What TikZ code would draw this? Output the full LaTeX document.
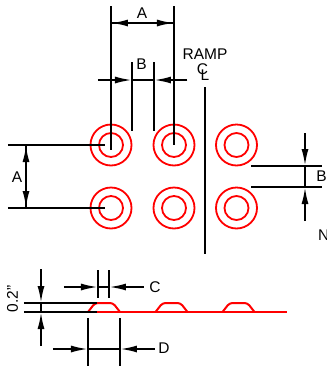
\documentclass[tikz,border=0pt]{standalone}
\usepackage{fontspec}
\setmainfont{Liberation Sans}
\usetikzlibrary{arrows.meta}
\tikzset{
    dimline/.style={black, line width=2pt},
    dimarrow/.style={dimline, -{Latex[length=17pt,width=7pt]}},
    padouter/.style={draw=red, circle, line width=1.8pt, minimum size=41pt, inner sep=0pt},
    padinner/.style={draw=red, circle, line width=1.8pt, minimum size=24pt, inner sep=0pt},
    rampline/.style={draw=red, line width=2pt, rounded corners=3pt},
    dimtext/.style={font=\fontsize{15.5}{15.5}\selectfont, inner sep=0pt}
}
\begin{document}
\begin{tikzpicture}[x=1pt,y=-1pt]
        \useasboundingbox (0,0) rectangle (327,368);

        % pads
        \node[padouter] (p1) at (111,145) {};
        \node[padouter] (p2) at (174,145) {};
        \node[padouter] (p3) at (236.5,145) {};
        \node[padouter] (p4) at (111,208) {};
        \node[padouter] (p5) at (174,208) {};
        \node[padouter] (p6) at (236.5,208) {};
        \node[padinner] (q1) at (111,145) {};
        \node[padinner] (q2) at (174,145) {};
        \node[padinner] (q3) at (236.5,145) {};
        \node[padinner] (q4) at (111,208) {};
        \node[padinner] (q5) at (174,208) {};
        \node[padinner] (q6) at (236.5,208) {};

        % labels
        \node[dimtext] (la) at (142,13) {A};
        \node[dimtext] (lb) at (141.5,64) {B};
        \node[dimtext] (lramp) at (205,54) {RAMP};
        \node[dimtext] (lc) at (202.5,69) {C};
        \node[dimtext] (ll) at (205,75) {L};
        \node[dimtext] (la2) at (17,177.5) {A};
        \node[dimtext] (lb2) at (321.5,176.5) {B};
        \node[dimtext, anchor=west] (ln) at (318,235) {N};
        \node[dimtext, rotate=90] (lh) at (12.5,299) {0.2"};
        \node[dimtext] (lc2) at (155,287.5) {C};
        \node[dimtext] (ld) at (164,348.5) {D};

        % top dimension A
        \coordinate (a1) at (111,6);
        \coordinate (a2) at (174,6);
        \coordinate (a3) at (111,23);
        \coordinate (a4) at (174,23);
        \draw[dimline] (a1) -- (p1.center |- 0,150);
        \draw[dimline] (a2) -- (p2.center);
        \draw[dimarrow] (a3) -- (a4);
        \draw[dimarrow] (a4) -- (a3);

        % top dimension B
        \coordinate (b1) at (132,62);
        \coordinate (b2) at (132,131);
        \coordinate (b3) at (154,62);
        \coordinate (b4) at (154,131);
        \coordinate (b5) at (98,80);
        \coordinate (b6) at (132,80);
        \coordinate (b7) at (187.5,80);
        \coordinate (b8) at (154,80);
        \draw[dimline] (b1) -- (b2);
        \draw[dimline] (b3) -- (b4);
        \draw[dimarrow] (b5) -- (b6);
        \draw[dimarrow] (b7) -- (b8);
        \draw[dimline] (b6) -- (b8);

        % ramp centre line
        \coordinate (r1) at (205,87);
        \coordinate (r2) at (205,254);
        \draw[dimline] (r1) -- (r2);

        % left dimension A
        \coordinate (c1) at (8,145);
        \coordinate (c2) at (105,145);
        \coordinate (c3) at (8,208);
        \coordinate (c4) at (105,208);
        \coordinate (c5) at (26,145);
        \coordinate (c6) at (26,208);
        \draw[dimline] (c1) -- (c2);
        \draw[dimline] (c3) -- (c4);
        \draw[dimarrow] (c5) -- (c6);
        \draw[dimarrow] (c6) -- (c5);

        % right dimension B
        \coordinate (d1) at (251.5,166);
        \coordinate (d2) at (322,166);
        \coordinate (d3) at (251.5,187);
        \coordinate (d4) at (322,187);
        \coordinate (d5) at (305,133);
        \coordinate (d6) at (305,166);
        \coordinate (d7) at (305,221);
        \coordinate (d8) at (305,187);
        \draw[dimline] (d1) -- (d2);
        \draw[dimline] (d3) -- (d4);
        \draw[dimarrow] (d5) -- (d6);
        \draw[dimarrow] (d7) -- (d8);
        \draw[dimline] (d6) -- (d8);

        % ramp profile
        \coordinate (s1) at (55,312);
        \coordinate (s2) at (287,312);
        \draw[rampline, rounded corners=0pt] (s1) -- (s2);
        \draw[rampline] (88,312) -- (95,303) -- (113,303) -- (120,312);
        \draw[rampline] (155.5,312) -- (162.5,303) -- (180.5,303) -- (187.5,312);
        \draw[rampline] (222.5,312) -- (229.5,303) -- (247.5,303) -- (254.5,312);

        % height dimension
        \coordinate (e1) at (24,303);
        \coordinate (e2) at (97,303);
        \coordinate (e3) at (24,312);
        \coordinate (e4) at (97,312);
        \coordinate (e5) at (41,269);
        \coordinate (e6) at (41,303);
        \coordinate (e7) at (41,346);
        \coordinate (e8) at (41,312);
        \draw[dimline] (e1) -- (e2);
        \draw[dimline] (e3) -- (e4);
        \draw[dimarrow] (e5) -- (e6);
        \draw[dimarrow] (e7) -- (e8);
        \draw[dimline] (e6) -- (e8);

        % dimension C
        \coordinate (f1) at (98,270);
        \coordinate (f2) at (98,298);
        \coordinate (f3) at (109,270);
        \coordinate (f4) at (109,298);
        \coordinate (f5) at (64,287);
        \coordinate (f6) at (98,287);
        \coordinate (f7) at (144,287);
        \coordinate (f8) at (109,287);
        \draw[dimline] (f1) -- (f2);
        \draw[dimline] (f3) -- (f4);
        \draw[dimarrow] (f5) -- (f6);
        \draw[dimarrow] (f7) -- (f8);
        \draw[dimline] (f6) -- (f8);

        % dimension D
        \coordinate (g1) at (88,318);
        \coordinate (g2) at (88,366);
        \coordinate (g3) at (120,318);
        \coordinate (g4) at (120,366);
        \coordinate (g5) at (53,349);
        \coordinate (g6) at (88,349);
        \coordinate (g7) at (155,349);
        \coordinate (g8) at (120,349);
        \draw[dimline] (g1) -- (g2);
        \draw[dimline] (g3) -- (g4);
        \draw[dimarrow] (g5) -- (g6);
        \draw[dimarrow] (g7) -- (g8);
        \draw[dimline] (g6) -- (g8);
    \end{tikzpicture}
\end{document}
